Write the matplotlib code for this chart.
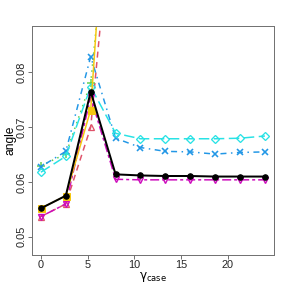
import matplotlib
matplotlib.use('Agg')
import matplotlib.pyplot as plt

# gamma_case values on the x axis
gamma_case = [0, 8/3, 16/3, 8, 32/3, 40/3, 16, 56/3, 64/3, 24]

# angle per series (the three that leave the top are estimated)
ang_black = [0.0552, 0.0575, 0.0765, 0.0614, 0.0612, 0.0611, 0.0611, 0.0610, 0.0610, 0.0610]
ang_red = [0.0537, 0.0560, 0.0700, 0.118, 0.125, 0.128, 0.130, 0.131, 0.132, 0.132]
ang_green = [0.0630, 0.0651, 0.0781, 0.124, 0.130, 0.133, 0.135, 0.136, 0.137, 0.137]
ang_blue = [0.0628, 0.0656, 0.0829, 0.0680, 0.0663, 0.0656, 0.0655, 0.0651, 0.0654, 0.0655]
ang_cyan = [0.0618, 0.0647, 0.0774, 0.0689, 0.0679, 0.0679, 0.0679, 0.0679, 0.0680, 0.0684]
ang_magenta = [0.0537, 0.0560, 0.0755, 0.0605, 0.0604, 0.0604, 0.0604, 0.0604, 0.0604, 0.0604]
ang_gold = [0.0552, 0.0575, 0.0732, 0.140, 0.148, 0.152, 0.154, 0.155, 0.156, 0.156]

plt.rcParams['font.family'] = ['Liberation Sans', 'DejaVu Sans']

fig = plt.figure(figsize=(4, 4), dpi=72)
ax = fig.add_axes([0.111, 0.115, 0.840, 0.795])

lw = 1.5
ax.plot(gamma_case, ang_red, color='#DF536B', lw=lw, ls=(0, (4, 3)),
        marker='^', ms=6, mfc='none', mew=1.3)
ax.plot(gamma_case, ang_green, color='#61D04F', lw=lw, ls=(0, (1, 3)),
        marker='+', ms=8, mew=1.5)
ax.plot(gamma_case, ang_blue, color='#2297E6', lw=lw, ls=(0, (1, 3, 4, 3)),
        marker='x', ms=6, mew=1.6)
ax.plot(gamma_case, ang_cyan, color='#28E2E5', lw=lw, ls=(0, (7, 3)),
        marker='D', ms=6, mfc='none', mew=1.3)
ax.plot(gamma_case, ang_magenta, color='#CD0BBC', lw=lw, ls=(0, (2, 2, 6, 2)),
        marker='v', ms=6, mfc='none', mew=1.4)
ax.plot(gamma_case, ang_gold, color='#F5C710', lw=lw, ls='-',
        marker='s', ms=7)
ax.plot(gamma_case, ang_black, color='black', lw=2, ls='-',
        marker='o', ms=5.5, zorder=5)

ax.set_xlim(-0.96, 24.96)
ax.set_ylim(0.0467, 0.0885)
ax.set_xticks([0, 5, 10, 15, 20])
ax.set_yticks([0.05, 0.06, 0.07, 0.08])
ax.set_yticklabels(['0.05', '0.06', '0.07', '0.08'], rotation=90, va='center')

for s in ax.spines.values():
    s.set_color('0.45')
    s.set_linewidth(1)
ax.tick_params(direction='out', length=4, width=1, color='0.45',
               labelsize=11, labelcolor='0.15', pad=1.5)

ax.set_xlabel(r'$\mathrm{\gamma}_{\mathrm{case}}$', fontsize=12, labelpad=0)
ax.set_ylabel('angle', fontsize=12, labelpad=0)

plt.savefig('out.png', dpi=72)
